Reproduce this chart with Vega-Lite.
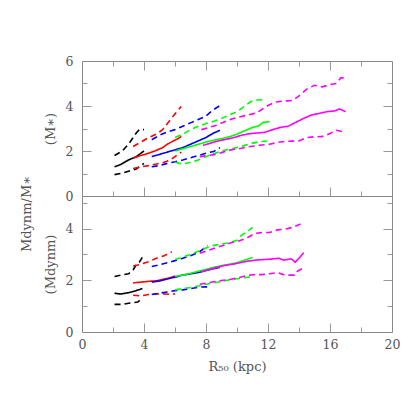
{
  "$schema": "https://vega.github.io/schema/vega-lite/v6.json",
  "background": "white",
  "padding": {"left": 21, "top": 55, "right": 5, "bottom": 5},
  "title": {"text": "Mdynm/M∗", "orient": "left", "anchor": "middle", "font": "DejaVu Serif", "fontSize": 13, "fontWeight": "normal", "color": "#555555", "offset": 10},
  "spacing": 0,
  "bounds": "flush",
  "datasets": {
    "top": [
      {"c":"k","s":"m","x":2.1,"y":1.3},{"c":"k","s":"m","x":2.5,"y":1.4},{"c":"k","s":"m","x":3.0,"y":1.6},{"c":"k","s":"m","x":3.5,"y":1.75},{"c":"k","s":"m","x":4.0,"y":2.0},
      {"c":"k","s":"h","x":2.1,"y":1.8},{"c":"k","s":"h","x":2.6,"y":2.0},{"c":"k","s":"h","x":3.0,"y":2.3},{"c":"k","s":"h","x":3.5,"y":2.8},{"c":"k","s":"h","x":3.7,"y":2.95},{"c":"k","s":"h","x":4.0,"y":2.95},
      {"c":"k","s":"l","x":2.1,"y":0.95},{"c":"k","s":"l","x":2.5,"y":1.0},{"c":"k","s":"l","x":3.0,"y":1.1},{"c":"k","s":"l","x":3.5,"y":1.2},{"c":"k","s":"l","x":4.0,"y":1.45},
      {"c":"r","s":"m","x":3.3,"y":1.68},{"c":"r","s":"m","x":3.7,"y":1.78},{"c":"r","s":"m","x":4.2,"y":1.88},{"c":"r","s":"m","x":4.7,"y":2.0},{"c":"r","s":"m","x":5.2,"y":2.15},{"c":"r","s":"m","x":5.5,"y":2.3},{"c":"r","s":"m","x":5.9,"y":2.45},{"c":"r","s":"m","x":6.2,"y":2.55},{"c":"r","s":"m","x":6.4,"y":2.65},
      {"c":"r","s":"h","x":3.3,"y":2.2},{"c":"r","s":"h","x":3.8,"y":2.4},{"c":"r","s":"h","x":4.3,"y":2.6},{"c":"r","s":"h","x":4.8,"y":2.75},{"c":"r","s":"h","x":5.2,"y":2.95},{"c":"r","s":"h","x":5.6,"y":3.3},{"c":"r","s":"h","x":6.0,"y":3.65},{"c":"r","s":"h","x":6.4,"y":3.98},
      {"c":"r","s":"l","x":3.3,"y":1.22},{"c":"r","s":"l","x":3.8,"y":1.3},{"c":"r","s":"l","x":4.3,"y":1.35},{"c":"r","s":"l","x":4.8,"y":1.42},{"c":"r","s":"l","x":5.3,"y":1.5},{"c":"r","s":"l","x":5.7,"y":1.6},{"c":"r","s":"l","x":6.0,"y":1.75},{"c":"r","s":"l","x":6.4,"y":1.95},
      {"c":"b","s":"m","x":4.5,"y":1.75},{"c":"b","s":"m","x":5.0,"y":1.85},{"c":"b","s":"m","x":5.5,"y":1.95},{"c":"b","s":"m","x":6.0,"y":2.05},{"c":"b","s":"m","x":6.5,"y":2.15},{"c":"b","s":"m","x":7.0,"y":2.3},{"c":"b","s":"m","x":7.5,"y":2.45},{"c":"b","s":"m","x":8.0,"y":2.6},{"c":"b","s":"m","x":8.5,"y":2.8},{"c":"b","s":"m","x":8.9,"y":2.92},
      {"c":"b","s":"h","x":4.5,"y":2.5},{"c":"b","s":"h","x":5.0,"y":2.7},{"c":"b","s":"h","x":5.5,"y":2.85},{"c":"b","s":"h","x":6.0,"y":2.95},{"c":"b","s":"h","x":6.5,"y":3.1},{"c":"b","s":"h","x":7.0,"y":3.25},{"c":"b","s":"h","x":7.5,"y":3.4},{"c":"b","s":"h","x":8.0,"y":3.55},{"c":"b","s":"h","x":8.4,"y":3.8},{"c":"b","s":"h","x":8.9,"y":4.02},
      {"c":"b","s":"l","x":4.5,"y":1.3},{"c":"b","s":"l","x":5.0,"y":1.35},{"c":"b","s":"l","x":5.5,"y":1.45},{"c":"b","s":"l","x":6.0,"y":1.52},{"c":"b","s":"l","x":6.5,"y":1.6},{"c":"b","s":"l","x":7.0,"y":1.7},{"c":"b","s":"l","x":7.5,"y":1.8},{"c":"b","s":"l","x":8.0,"y":1.9},{"c":"b","s":"l","x":8.5,"y":1.98},{"c":"b","s":"l","x":8.9,"y":2.15},
      {"c":"g","s":"m","x":6.0,"y":2.0},{"c":"g","s":"m","x":6.5,"y":2.1},{"c":"g","s":"m","x":7.0,"y":2.2},{"c":"g","s":"m","x":7.5,"y":2.3},{"c":"g","s":"m","x":8.0,"y":2.4},{"c":"g","s":"m","x":8.5,"y":2.48},{"c":"g","s":"m","x":9.0,"y":2.55},{"c":"g","s":"m","x":9.5,"y":2.63},{"c":"g","s":"m","x":10.0,"y":2.75},{"c":"g","s":"m","x":10.5,"y":2.9},{"c":"g","s":"m","x":11.0,"y":3.05},{"c":"g","s":"m","x":11.4,"y":3.12},{"c":"g","s":"m","x":11.7,"y":3.28},{"c":"g","s":"m","x":12.1,"y":3.3},
      {"c":"g","s":"h","x":6.0,"y":2.6},{"c":"g","s":"h","x":6.5,"y":2.75},{"c":"g","s":"h","x":7.0,"y":2.95},{"c":"g","s":"h","x":7.5,"y":3.1},{"c":"g","s":"h","x":8.0,"y":3.22},{"c":"g","s":"h","x":8.5,"y":3.32},{"c":"g","s":"h","x":9.0,"y":3.45},{"c":"g","s":"h","x":9.5,"y":3.6},{"c":"g","s":"h","x":10.0,"y":3.75},{"c":"g","s":"h","x":10.5,"y":4.0},{"c":"g","s":"h","x":10.9,"y":4.2},{"c":"g","s":"h","x":11.3,"y":4.27},{"c":"g","s":"h","x":11.8,"y":4.28},
      {"c":"g","s":"l","x":6.0,"y":1.5},{"c":"g","s":"l","x":6.5,"y":1.42},{"c":"g","s":"l","x":7.0,"y":1.5},{"c":"g","s":"l","x":7.5,"y":1.6},{"c":"g","s":"l","x":8.0,"y":1.75},{"c":"g","s":"l","x":8.5,"y":1.88},{"c":"g","s":"l","x":9.0,"y":2.0},{"c":"g","s":"l","x":9.5,"y":2.08},{"c":"g","s":"l","x":10.0,"y":2.15},{"c":"g","s":"l","x":10.5,"y":2.25},{"c":"g","s":"l","x":11.0,"y":2.35},{"c":"g","s":"l","x":11.5,"y":2.42},{"c":"g","s":"l","x":12.0,"y":2.45},
      {"c":"m","s":"m","x":7.8,"y":2.25},{"c":"m","s":"m","x":8.3,"y":2.35},{"c":"m","s":"m","x":8.8,"y":2.45},{"c":"m","s":"m","x":9.3,"y":2.52},{"c":"m","s":"m","x":9.8,"y":2.6},{"c":"m","s":"m","x":10.3,"y":2.7},{"c":"m","s":"m","x":10.8,"y":2.77},{"c":"m","s":"m","x":11.3,"y":2.8},{"c":"m","s":"m","x":11.8,"y":2.83},{"c":"m","s":"m","x":12.3,"y":2.95},{"c":"m","s":"m","x":12.8,"y":3.05},{"c":"m","s":"m","x":13.3,"y":3.1},{"c":"m","s":"m","x":13.8,"y":3.28},{"c":"m","s":"m","x":14.3,"y":3.45},{"c":"m","s":"m","x":14.8,"y":3.6},{"c":"m","s":"m","x":15.3,"y":3.67},{"c":"m","s":"m","x":15.8,"y":3.75},{"c":"m","s":"m","x":16.3,"y":3.78},{"c":"m","s":"m","x":16.6,"y":3.87},{"c":"m","s":"m","x":17.0,"y":3.75},
      {"c":"m","s":"h","x":7.7,"y":2.95},{"c":"m","s":"h","x":8.2,"y":3.05},{"c":"m","s":"h","x":8.7,"y":3.15},{"c":"m","s":"h","x":9.2,"y":3.3},{"c":"m","s":"h","x":9.7,"y":3.43},{"c":"m","s":"h","x":10.2,"y":3.52},{"c":"m","s":"h","x":10.7,"y":3.6},{"c":"m","s":"h","x":11.2,"y":3.68},{"c":"m","s":"h","x":11.5,"y":3.8},{"c":"m","s":"h","x":12.0,"y":4.02},{"c":"m","s":"h","x":12.5,"y":4.18},{"c":"m","s":"h","x":13.0,"y":4.22},{"c":"m","s":"h","x":13.6,"y":4.25},{"c":"m","s":"h","x":14.0,"y":4.45},{"c":"m","s":"h","x":14.5,"y":4.75},{"c":"m","s":"h","x":15.0,"y":4.92},{"c":"m","s":"h","x":15.5,"y":4.85},{"c":"m","s":"h","x":16.0,"y":4.95},{"c":"m","s":"h","x":16.4,"y":5.0},{"c":"m","s":"h","x":16.7,"y":5.25},{"c":"m","s":"h","x":17.0,"y":5.25},
      {"c":"m","s":"l","x":7.6,"y":1.75},{"c":"m","s":"l","x":8.1,"y":1.8},{"c":"m","s":"l","x":8.6,"y":1.85},{"c":"m","s":"l","x":9.1,"y":1.95},{"c":"m","s":"l","x":9.6,"y":2.05},{"c":"m","s":"l","x":10.1,"y":2.1},{"c":"m","s":"l","x":10.6,"y":2.17},{"c":"m","s":"l","x":11.1,"y":2.22},{"c":"m","s":"l","x":11.6,"y":2.27},{"c":"m","s":"l","x":12.1,"y":2.3},{"c":"m","s":"l","x":12.6,"y":2.38},{"c":"m","s":"l","x":13.1,"y":2.43},{"c":"m","s":"l","x":13.6,"y":2.44},{"c":"m","s":"l","x":14.0,"y":2.45},{"c":"m","s":"l","x":14.5,"y":2.6},{"c":"m","s":"l","x":15.0,"y":2.63},{"c":"m","s":"l","x":15.6,"y":2.65},{"c":"m","s":"l","x":16.0,"y":2.78},{"c":"m","s":"l","x":16.4,"y":2.92},{"c":"m","s":"l","x":16.7,"y":2.88},{"c":"m","s":"l","x":17.0,"y":2.8}
    ],
    "bot": [
      {"c":"k","s":"m","x":2.1,"y":1.5},{"c":"k","s":"m","x":2.5,"y":1.47},{"c":"k","s":"m","x":3.0,"y":1.52},{"c":"k","s":"m","x":3.5,"y":1.6},{"c":"k","s":"m","x":3.9,"y":1.68},
      {"c":"k","s":"h","x":2.1,"y":2.15},{"c":"k","s":"h","x":2.5,"y":2.2},{"c":"k","s":"h","x":3.0,"y":2.25},{"c":"k","s":"h","x":3.3,"y":2.4},{"c":"k","s":"h","x":3.5,"y":2.6},{"c":"k","s":"h","x":3.7,"y":2.7},{"c":"k","s":"h","x":3.9,"y":2.9},
      {"c":"k","s":"l","x":2.1,"y":1.07},{"c":"k","s":"l","x":2.6,"y":1.07},{"c":"k","s":"l","x":3.1,"y":1.12},{"c":"k","s":"l","x":3.6,"y":1.16},{"c":"k","s":"l","x":3.9,"y":1.32},
      {"c":"r","s":"m","x":3.3,"y":1.9},{"c":"r","s":"m","x":3.8,"y":1.93},{"c":"r","s":"m","x":4.3,"y":1.96},{"c":"r","s":"m","x":4.8,"y":1.98},{"c":"r","s":"m","x":5.3,"y":2.05},{"c":"r","s":"m","x":5.7,"y":2.1},{"c":"r","s":"m","x":6.0,"y":2.17},
      {"c":"r","s":"h","x":3.3,"y":2.55},{"c":"r","s":"h","x":3.8,"y":2.62},{"c":"r","s":"h","x":4.3,"y":2.72},{"c":"r","s":"h","x":4.8,"y":2.85},{"c":"r","s":"h","x":5.3,"y":2.95},{"c":"r","s":"h","x":5.8,"y":3.1},
      {"c":"r","s":"l","x":3.3,"y":1.42},{"c":"r","s":"l","x":3.8,"y":1.4},{"c":"r","s":"l","x":4.3,"y":1.45},{"c":"r","s":"l","x":4.8,"y":1.47},{"c":"r","s":"l","x":5.3,"y":1.47},{"c":"r","s":"l","x":5.8,"y":1.45},{"c":"r","s":"l","x":6.0,"y":1.48},
      {"c":"b","s":"m","x":4.5,"y":1.93},{"c":"b","s":"m","x":5.0,"y":1.97},{"c":"b","s":"m","x":5.5,"y":2.05},{"c":"b","s":"m","x":6.0,"y":2.12},{"c":"b","s":"m","x":6.5,"y":2.2},{"c":"b","s":"m","x":7.0,"y":2.25},{"c":"b","s":"m","x":7.5,"y":2.3},{"c":"b","s":"m","x":8.0,"y":2.38},{"c":"b","s":"m","x":8.5,"y":2.45},{"c":"b","s":"m","x":8.9,"y":2.5},
      {"c":"b","s":"h","x":4.5,"y":2.53},{"c":"b","s":"h","x":5.0,"y":2.6},{"c":"b","s":"h","x":5.5,"y":2.68},{"c":"b","s":"h","x":6.0,"y":2.76},{"c":"b","s":"h","x":6.5,"y":2.85},{"c":"b","s":"h","x":7.0,"y":2.95},{"c":"b","s":"h","x":7.5,"y":3.07},{"c":"b","s":"h","x":7.8,"y":3.2},{"c":"b","s":"h","x":8.1,"y":3.35},
      {"c":"b","s":"l","x":4.5,"y":1.45},{"c":"b","s":"l","x":5.0,"y":1.5},{"c":"b","s":"l","x":5.5,"y":1.55},{"c":"b","s":"l","x":6.0,"y":1.6},{"c":"b","s":"l","x":6.5,"y":1.63},{"c":"b","s":"l","x":7.0,"y":1.68},{"c":"b","s":"l","x":7.5,"y":1.73},{"c":"b","s":"l","x":8.0,"y":1.75},{"c":"b","s":"l","x":8.3,"y":1.72},
      {"c":"g","s":"m","x":6.0,"y":2.15},{"c":"g","s":"m","x":6.5,"y":2.2},{"c":"g","s":"m","x":7.0,"y":2.27},{"c":"g","s":"m","x":7.5,"y":2.35},{"c":"g","s":"m","x":8.0,"y":2.42},{"c":"g","s":"m","x":8.5,"y":2.5},{"c":"g","s":"m","x":9.0,"y":2.57},{"c":"g","s":"m","x":9.5,"y":2.62},{"c":"g","s":"m","x":10.0,"y":2.68},{"c":"g","s":"m","x":10.5,"y":2.78},{"c":"g","s":"m","x":11.0,"y":2.88},
      {"c":"g","s":"h","x":6.0,"y":2.8},{"c":"g","s":"h","x":6.5,"y":2.9},{"c":"g","s":"h","x":7.0,"y":3.0},{"c":"g","s":"h","x":7.5,"y":3.12},{"c":"g","s":"h","x":8.0,"y":3.25},{"c":"g","s":"h","x":8.5,"y":3.35},{"c":"g","s":"h","x":9.0,"y":3.4},{"c":"g","s":"h","x":9.5,"y":3.45},{"c":"g","s":"h","x":10.0,"y":3.55},{"c":"g","s":"h","x":10.3,"y":3.75},{"c":"g","s":"h","x":10.7,"y":3.9},{"c":"g","s":"h","x":11.0,"y":4.05},
      {"c":"g","s":"l","x":6.0,"y":1.63},{"c":"g","s":"l","x":6.5,"y":1.68},{"c":"g","s":"l","x":7.0,"y":1.72},{"c":"g","s":"l","x":7.5,"y":1.78},{"c":"g","s":"l","x":8.0,"y":1.85},{"c":"g","s":"l","x":8.5,"y":1.9},{"c":"g","s":"l","x":9.0,"y":1.95},{"c":"g","s":"l","x":9.5,"y":2.02},{"c":"g","s":"l","x":10.0,"y":2.06},{"c":"g","s":"l","x":10.5,"y":2.1},{"c":"g","s":"l","x":11.0,"y":2.15},
      {"c":"m","s":"m","x":7.7,"y":2.33},{"c":"m","s":"m","x":8.2,"y":2.42},{"c":"m","s":"m","x":8.7,"y":2.5},{"c":"m","s":"m","x":9.2,"y":2.57},{"c":"m","s":"m","x":9.7,"y":2.62},{"c":"m","s":"m","x":10.2,"y":2.68},{"c":"m","s":"m","x":10.7,"y":2.74},{"c":"m","s":"m","x":11.2,"y":2.78},{"c":"m","s":"m","x":11.7,"y":2.8},{"c":"m","s":"m","x":12.2,"y":2.82},{"c":"m","s":"m","x":12.7,"y":2.85},{"c":"m","s":"m","x":13.0,"y":2.78},{"c":"m","s":"m","x":13.2,"y":2.8},{"c":"m","s":"m","x":13.5,"y":2.83},{"c":"m","s":"m","x":13.75,"y":2.7},{"c":"m","s":"m","x":14.0,"y":2.85},{"c":"m","s":"m","x":14.3,"y":3.07},
      {"c":"m","s":"h","x":7.6,"y":3.05},{"c":"m","s":"h","x":8.1,"y":3.15},{"c":"m","s":"h","x":8.6,"y":3.25},{"c":"m","s":"h","x":9.1,"y":3.35},{"c":"m","s":"h","x":9.6,"y":3.45},{"c":"m","s":"h","x":10.1,"y":3.52},{"c":"m","s":"h","x":10.6,"y":3.62},{"c":"m","s":"h","x":11.1,"y":3.8},{"c":"m","s":"h","x":11.6,"y":3.85},{"c":"m","s":"h","x":12.1,"y":3.85},{"c":"m","s":"h","x":12.6,"y":3.95},{"c":"m","s":"h","x":13.1,"y":3.98},{"c":"m","s":"h","x":13.6,"y":4.05},{"c":"m","s":"h","x":14.1,"y":4.18},
      {"c":"m","s":"l","x":7.6,"y":1.85},{"c":"m","s":"l","x":8.1,"y":1.9},{"c":"m","s":"l","x":8.6,"y":1.95},{"c":"m","s":"l","x":9.1,"y":2.0},{"c":"m","s":"l","x":9.6,"y":2.04},{"c":"m","s":"l","x":10.1,"y":2.1},{"c":"m","s":"l","x":10.6,"y":2.18},{"c":"m","s":"l","x":11.1,"y":2.22},{"c":"m","s":"l","x":11.6,"y":2.22},{"c":"m","s":"l","x":12.1,"y":2.25},{"c":"m","s":"l","x":12.6,"y":2.3},{"c":"m","s":"l","x":13.0,"y":2.22},{"c":"m","s":"l","x":13.3,"y":2.2},{"c":"m","s":"l","x":13.7,"y":2.2},{"c":"m","s":"l","x":13.9,"y":2.35},{"c":"m","s":"l","x":14.3,"y":2.48}
    ]
  },
  "vconcat": [
    {
      "width": 310, "height": 135,
      "data": {"name": "top"},
      "resolve": {"axis": {"x": "independent", "y": "independent"}},
      "layer": [
        {
          "mark": {"type": "line", "strokeWidth": 1.6},
          "encoding": {
            "x": {"field": "x", "type": "quantitative", "scale": {"domain": [0, 20], "nice": false, "zero": false},
                  "axis": {"orient": "bottom", "values": [0, 20], "ticks": false, "labels": false, "title": null}},
            "y": {"field": "y", "type": "quantitative", "scale": {"domain": [0, 6], "nice": false, "zero": false},
                  "axis": {"orient": "left", "values": [0, 2, 4, 6], "ticks": false, "title": "(M∗)", "labelPadding": 9, "titlePadding": 8}},
            "color": {"field": "c", "type": "nominal", "scale": {"domain": ["k","r","b","g","m"], "range": ["#000000","#ff0000","#0000ff","#00ff00","#ff00ff"]}, "legend": null},
            "strokeDash": {"field": "s", "type": "nominal", "scale": {"domain": ["m","h","l"], "range": [[1,0],[6,4],[6,4]]}, "legend": null},
            "detail": [{"field": "c", "type": "nominal"}, {"field": "s", "type": "nominal"}]
          }
        },
        {
          "mark": {"type": "point", "opacity": 0},
          "encoding": {
            "x": {"field": "x", "type": "quantitative", "scale": {"domain": [0, 20], "nice": false, "zero": false},
                  "axis": {"orient": "top", "values": [0, 20], "ticks": false, "labels": false, "title": null}},
            "y": {"field": "y", "type": "quantitative", "scale": {"domain": [0, 6], "nice": false, "zero": false},
                  "axis": {"orient": "right", "values": [0, 6], "ticks": false, "labels": false, "title": null}}
          }
        },
        {
          "mark": {"type": "point", "opacity": 0},
          "encoding": {
            "x": {"field": "x", "type": "quantitative", "scale": {"domain": [0, 20], "nice": false, "zero": false},
                  "axis": {"orient": "bottom", "values": [4, 8, 12, 16], "offset": -9, "tickSize": 9, "domain": false, "labels": false, "title": null}},
            "y": {"field": "y", "type": "quantitative", "scale": {"domain": [0, 6], "nice": false, "zero": false},
                  "axis": {"orient": "left", "values": [2, 4], "offset": -9, "tickSize": 9, "domain": false, "labels": false, "title": null}}
          }
        },
        {
          "mark": {"type": "point", "opacity": 0},
          "encoding": {
            "x": {"field": "x", "type": "quantitative", "scale": {"domain": [0, 20], "nice": false, "zero": false},
                  "axis": {"orient": "bottom", "values": [2, 6, 10, 14, 18], "offset": -5, "tickSize": 5, "domain": false, "labels": false, "title": null}},
            "y": {"field": "y", "type": "quantitative", "scale": {"domain": [0, 6], "nice": false, "zero": false},
                  "axis": {"orient": "left", "values": [1, 3, 5], "offset": -5, "tickSize": 5, "domain": false, "labels": false, "title": null}}
          }
        },
        {
          "mark": {"type": "point", "opacity": 0},
          "encoding": {
            "x": {"field": "x", "type": "quantitative", "scale": {"domain": [0, 20], "nice": false, "zero": false},
                  "axis": {"orient": "top", "values": [4, 8, 12, 16], "offset": -9, "tickSize": 9, "domain": false, "labels": false, "title": null}},
            "y": {"field": "y", "type": "quantitative", "scale": {"domain": [0, 6], "nice": false, "zero": false},
                  "axis": {"orient": "right", "values": [2, 4], "offset": -9, "tickSize": 9, "domain": false, "labels": false, "title": null}}
          }
        },
        {
          "mark": {"type": "point", "opacity": 0},
          "encoding": {
            "x": {"field": "x", "type": "quantitative", "scale": {"domain": [0, 20], "nice": false, "zero": false},
                  "axis": {"orient": "top", "values": [2, 6, 10, 14, 18], "offset": -5, "tickSize": 5, "domain": false, "labels": false, "title": null}},
            "y": {"field": "y", "type": "quantitative", "scale": {"domain": [0, 6], "nice": false, "zero": false},
                  "axis": {"orient": "right", "values": [1, 3, 5], "offset": -5, "tickSize": 5, "domain": false, "labels": false, "title": null}}
          }
        }
      ]
    },
    {
      "width": 310, "height": 136,
      "data": {"name": "bot"},
      "resolve": {"axis": {"x": "independent", "y": "independent"}},
      "layer": [
        {
          "mark": {"type": "line", "strokeWidth": 1.6},
          "encoding": {
            "x": {"field": "x", "type": "quantitative", "scale": {"domain": [0, 20], "nice": false, "zero": false},
                  "axis": {"orient": "bottom", "values": [0, 4, 8, 12, 16, 20], "ticks": false, "title": "R₅₀ (kpc)", "labelPadding": 6.5, "titlePadding": 9}},
            "y": {"field": "y", "type": "quantitative", "scale": {"domain": [0, 5.26], "nice": false, "zero": false},
                  "axis": {"orient": "left", "values": [0, 2, 4], "ticks": false, "title": "(Mdynm)", "labelPadding": 9, "titlePadding": 8}},
            "color": {"field": "c", "type": "nominal", "scale": {"domain": ["k","r","b","g","m"], "range": ["#000000","#ff0000","#0000ff","#00ff00","#ff00ff"]}, "legend": null},
            "strokeDash": {"field": "s", "type": "nominal", "scale": {"domain": ["m","h","l"], "range": [[1,0],[6,4],[6,4]]}, "legend": null},
            "detail": [{"field": "c", "type": "nominal"}, {"field": "s", "type": "nominal"}]
          }
        },
        {
          "mark": {"type": "point", "opacity": 0},
          "encoding": {
            "x": {"field": "x", "type": "quantitative", "scale": {"domain": [0, 20], "nice": false, "zero": false},
                  "axis": {"orient": "top", "values": [0, 20], "ticks": false, "labels": false, "title": null}},
            "y": {"field": "y", "type": "quantitative", "scale": {"domain": [0, 5.26], "nice": false, "zero": false},
                  "axis": {"orient": "right", "values": [0], "ticks": false, "labels": false, "title": null}}
          }
        },
        {
          "mark": {"type": "point", "opacity": 0},
          "encoding": {
            "x": {"field": "x", "type": "quantitative", "scale": {"domain": [0, 20], "nice": false, "zero": false},
                  "axis": {"orient": "bottom", "values": [4, 8, 12, 16], "offset": -9, "tickSize": 9, "domain": false, "labels": false, "title": null}},
            "y": {"field": "y", "type": "quantitative", "scale": {"domain": [0, 5.26], "nice": false, "zero": false},
                  "axis": {"orient": "left", "values": [2, 4], "offset": -9, "tickSize": 9, "domain": false, "labels": false, "title": null}}
          }
        },
        {
          "mark": {"type": "point", "opacity": 0},
          "encoding": {
            "x": {"field": "x", "type": "quantitative", "scale": {"domain": [0, 20], "nice": false, "zero": false},
                  "axis": {"orient": "bottom", "values": [2, 6, 10, 14, 18], "offset": -5, "tickSize": 5, "domain": false, "labels": false, "title": null}},
            "y": {"field": "y", "type": "quantitative", "scale": {"domain": [0, 5.26], "nice": false, "zero": false},
                  "axis": {"orient": "left", "values": [1, 3, 5], "offset": -5, "tickSize": 5, "domain": false, "labels": false, "title": null}}
          }
        },
        {
          "mark": {"type": "point", "opacity": 0},
          "encoding": {
            "x": {"field": "x", "type": "quantitative", "scale": {"domain": [0, 20], "nice": false, "zero": false}, "axis": null},
            "y": {"field": "y", "type": "quantitative", "scale": {"domain": [0, 5.26], "nice": false, "zero": false},
                  "axis": {"orient": "right", "values": [2, 4], "offset": -9, "tickSize": 9, "domain": false, "labels": false, "title": null}}
          }
        },
        {
          "mark": {"type": "point", "opacity": 0},
          "encoding": {
            "x": {"field": "x", "type": "quantitative", "scale": {"domain": [0, 20], "nice": false, "zero": false}, "axis": null},
            "y": {"field": "y", "type": "quantitative", "scale": {"domain": [0, 5.26], "nice": false, "zero": false},
                  "axis": {"orient": "right", "values": [1, 3, 5], "offset": -5, "tickSize": 5, "domain": false, "labels": false, "title": null}}
          }
        }
      ]
    }
  ],
  "config": {
    "view": {"stroke": null},
    "axis": {
      "grid": false, "domainColor": "#888888", "domainWidth": 1, "tickColor": "#999999", "tickWidth": 1,
      "labelFont": "DejaVu Serif", "labelFontSize": 12.5, "labelColor": "#555555", "labelOverlap": false, "labelFlush": false,
      "titleFont": "DejaVu Serif", "titleFontSize": 13, "titleFontWeight": "normal", "titleColor": "#555555"
    }
  }
}
